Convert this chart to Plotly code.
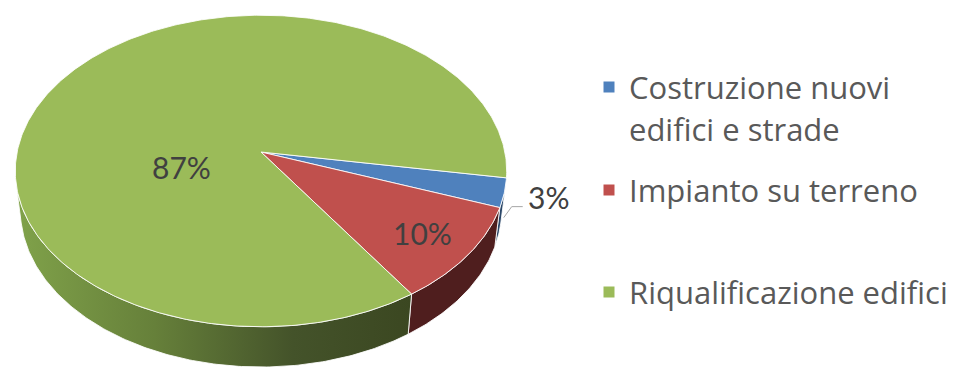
import numpy as np
import plotly.graph_objects as go

# --- data ---
categories = ["Costruzione nuovi edifici e strade", "Impianto su terreno", "Riqualificazione edifici"]
legend_lines = [["Costruzione nuovi", "edifici e strade"], ["Impianto su terreno"], ["Riqualificazione edifici"]]
values = [3, 10, 87]

# --- styling ---
top_colors = ["#4F81BD", "#C0504D", "#9BBB59"]
side_colors = ["#2B4768", "#4F1E1E", None]  # green side uses a gradient
green_side_scale = [[0, "#80A24A"], [0.35, "#66803A"], [0.7, "#44532A"], [1, "#3B4721"]]
edge = "rgba(255,255,255,0.85)"
text_color = "#404040"
legend_color = "#595959"
label_font = "Lato, 'Open Sans', sans-serif"
legend_font = "'Open Sans', Lato, sans-serif"

W, H = 960, 369
first_slice_angle = 99.5      # degrees, clockwise from 12 o'clock
cx, cy = 261.0, 152.0         # screen position of the pie centre
alpha = np.radians(39.0)      # tilt of the pie
D, F = 6.38, 1556.0           # perspective distance and focal scale
thick = 0.21                  # pie height relative to radius
sa, ca = np.sin(alpha), np.cos(alpha)


def proj(u, v, w):
    """Perspective projection of pie-space points to screen pixels."""
    ys = v * sa - w * ca
    z = D - v * ca - w * sa
    return cx + F * u / z, cy + F * ys / z


def arc(a0, a1, w=0.0, r=1.0, n=None):
    n = n or max(int(abs(a1 - a0) * 1.5) + 2, 3)
    t = np.radians(np.linspace(a0, a1, n))
    return proj(r * np.cos(t), r * np.sin(t), w)


total = float(sum(values))
bounds = np.concatenate([[0], np.cumsum(values)]) / total * 360.0 + (first_slice_angle - 90.0)

# visible part of the rim (outward normal facing the viewer)
vis_a = np.degrees(np.arcsin(1.0 / (D * ca)))
vis_b = 180.0 - vis_a

fig = go.Figure()

# side walls
for i in range(len(values)):
    a0, a1 = bounds[i], bounds[i + 1]
    s0, s1 = max(a0, vis_a), min(a1, vis_b)
    if s1 <= s0:
        continue
    xt, yt = arc(s0, s1, 0.0)
    xb, yb = arc(s1, s0, -thick)
    xs = np.concatenate([xt, xb, xt[:1]])
    ys = np.concatenate([yt, yb, yt[:1]])
    kw = dict(x=xs, y=ys, mode="lines", fill="toself",
              line=dict(color=edge, width=1), hoverinfo="skip", showlegend=False)
    if side_colors[i] is None:
        kw["fillgradient"] = dict(type="horizontal", colorscale=green_side_scale,
                                  start=float(xs.min()), stop=float(xs.max()))
    else:
        kw["fillcolor"] = side_colors[i]
    fig.add_trace(go.Scatter(**kw))

# top faces
for i in range(len(values)):
    a0, a1 = bounds[i], bounds[i + 1]
    xa, ya = arc(a0, a1, 0.0)
    ox, oy = proj(0.0, 0.0, 0.0)
    xs = np.concatenate([[ox], xa, [ox]])
    ys = np.concatenate([[oy], ya, [oy]])
    fig.add_trace(go.Scatter(x=xs, y=ys, mode="lines", fill="toself",
                             fillcolor=top_colors[i], line=dict(color=edge, width=1),
                             name=categories[i], hoverinfo="name", showlegend=False))

# data labels
pct = [f"{round(v / total * 100)}%" for v in values]
label_pos = [(548, 197), (422, 233), (181, 167)]
for i, (lx, ly) in enumerate(label_pos):
    fig.add_annotation(x=lx, y=ly, text=pct[i], showarrow=False,
                       font=dict(family=label_font, size=30, color=text_color))

# leader line for the small slice
mid = 0.5 * (bounds[0] + bounds[1])
lx0, ly0 = proj(np.cos(np.radians(mid)), np.sin(np.radians(mid)), -thick / 2)
fig.add_trace(go.Scatter(x=[lx0 + 2, lx0 + 10, lx0 + 21], y=[ly0 + 5, ly0 - 6, ly0 - 6],
                         mode="lines", line=dict(color="#A6A6A6", width=1),
                         hoverinfo="skip", showlegend=False))

# legend
legend_x, text_x = 609, 627
legend_y = [87, 190, 292]
line_gap = 42
fig.add_trace(go.Scatter(x=[legend_x] * 3, y=legend_y, mode="markers",
                         marker=dict(symbol="square", size=11, color=top_colors, line=dict(width=0)),
                         hoverinfo="skip", showlegend=False))
for i, lines in enumerate(legend_lines):
    for j, t in enumerate(lines):
        fig.add_annotation(x=text_x, y=legend_y[i] + j * line_gap, text=t, showarrow=False,
                           xanchor="left", yanchor="middle",
                           font=dict(family=legend_font, size=31, color=legend_color))

fig.update_layout(
    width=W, height=H, margin=dict(l=0, r=0, t=0, b=0),
    paper_bgcolor="white", plot_bgcolor="white",
    xaxis=dict(range=[0, W], visible=False, fixedrange=True),
    yaxis=dict(range=[H, 0], visible=False, fixedrange=True),
    showlegend=False,
)

fig.write_html("out.html")
